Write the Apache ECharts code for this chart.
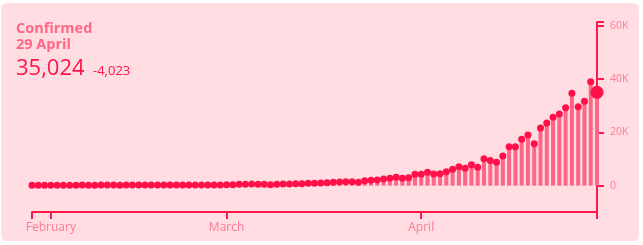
<!DOCTYPE html>
<html>
<head>
<meta charset="utf-8">
<script src="https://cdn.jsdelivr.net/npm/echarts@6/dist/echarts.min.js"></script>
<style>
html,body{margin:0;padding:0;background:#ffffff;}
#chart{width:643px;height:245px;}
</style>
</head>
<body>
<div id="chart"></div>
<script>
// Dates Jan 29 .. Apr 29 (91 days, non-leap year)
const monthNames = ['January','February','March','April'];
const monthLengths = [31, 28, 31, 30];
const startMonth = 0, startDay = 29, dayCount = 91;

// daily confirmed values
const values = [
  120,150,180,160,200,190,170,210,230,200,
  180,220,250,230,210,240,260,230,220,250,
  270,240,230,260,280,250,240,270,290,260,
  260,375,375,510,510,640,510,510,375,510,
  640,640,760,760,880,880,1000,1140,1260,1390,
  1510,1510,1260,1890,2010,2140,
  2500,2800,3150,2800,3000,4270,4270,5000,4400,4500,
  5250,6150,7100,6500,7900,6900,10100,9500,8800,11100,
  14600,14600,17400,19000,15750,21640,23500,25650,26900,29250,
  34650,29600,31650,39047,35024
];

const yTickValues = [0, 20000, 40000, 60000];
const yTickLabels = ['0', '20K', '40K', '60K'];
const titleText = 'Confirmed';
const dateText = '29 April';
const totalText = '35,024';
const changeText = '-4,023';

// build category labels
const categories = [];
const monthStartIdx = {};
{
  let m = startMonth, d = startDay;
  for (let i = 0; i < dayCount; i++) {
    categories.push(d + ' ' + monthNames[m]);
    if (d === 1) monthStartIdx[i] = monthNames[m];
    d++;
    if (d > monthLengths[m]) { d = 1; m++; }
  }
}
const lastIdx = dayCount - 1;

const axisColor = '#ff1a4b';
const labelColor = '#ff7a95';
const fontFam = '"Open Sans"';
const yMin = -9870, yMax = 61420;

const chart = echarts.init(document.getElementById('chart'), null, {renderer: 'canvas'});
const dotData = values.map((v, i) => i === lastIdx ? {value: v, symbolSize: 13} : v);

chart.setOption({
  animation: false,
  backgroundColor: '#ffffff',
  graphic: [
    {type: 'rect', z: -10, shape: {x: 1, y: 3, width: 638, height: 238, r: 6}, style: {fill: '#ffdde3'}},
    {type: 'text', x: 16, y: 28.5, style: {text: titleText, font: 'bold 14.5px ' + fontFam, fill: '#ff6786', verticalAlign: 'middle'}},
    {type: 'text', x: 16, y: 45, style: {text: dateText, font: 'bold 14.5px ' + fontFam, fill: '#ff6786', verticalAlign: 'middle'}},
    {type: 'text', x: 16, y: 68.5, style: {text: totalText, font: '22px ' + fontFam, fill: '#ff1447', verticalAlign: 'middle'}},
    {type: 'text', x: 93, y: 71.5, style: {text: changeText, font: '13px ' + fontFam, fill: '#ff1447', verticalAlign: 'middle'}}
  ],
  grid: {left: 32, right: 46, top: 22, bottom: 33, containLabel: false},
  xAxis: {
    type: 'category',
    data: categories,
    boundaryGap: false,
    axisLine: {onZero: false, lineStyle: {color: axisColor, width: 2}},
    axisTick: {
      show: true, length: 7, lineStyle: {color: axisColor, width: 2},
      interval: (i) => i === 0 || i === lastIdx || monthStartIdx[i] !== undefined
    },
    axisLabel: {
      color: labelColor, fontFamily: fontFam, fontSize: 12, margin: 10,
      interval: (i) => monthStartIdx[i] !== undefined,
      formatter: (v, i) => monthStartIdx[i] || ''
    },
    splitLine: {show: false}
  },
  yAxis: {
    type: 'value',
    position: 'right',
    min: yMin, max: yMax,
    axisLine: {show: true, lineStyle: {color: axisColor, width: 2}},
    axisTick: {show: true, length: 7, lineStyle: {color: axisColor, width: 2}, customValues: yTickValues.concat([yMax])},
    axisLabel: {
      color: labelColor, fontFamily: fontFam, fontSize: 10.5, margin: 13,
      customValues: yTickValues,
      formatter: (v) => yTickLabels[yTickValues.indexOf(v)] || ''
    },
    splitLine: {show: false}
  },
  series: [
    {
      type: 'bar',
      data: values,
      barWidth: 4,
      itemStyle: {color: '#ff6586'},
      z: 2
    },
    {
      type: 'line',
      data: dotData,
      symbol: 'circle',
      symbolSize: 7,
      showSymbol: true,
      showAllSymbol: true,
      lineStyle: {opacity: 0},
      itemStyle: {color: '#ff1048'},
      z: 3
    }
  ]
});
</script>
</body>
</html>
